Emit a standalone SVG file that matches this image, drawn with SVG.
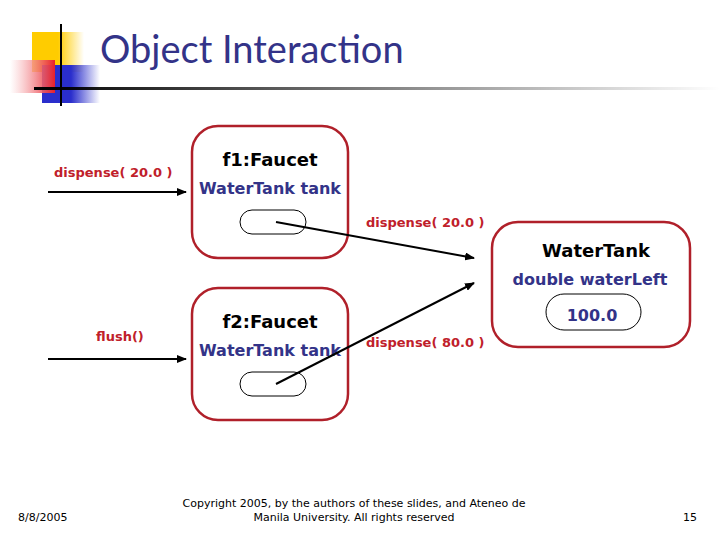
<svg xmlns="http://www.w3.org/2000/svg" width="720" height="540" viewBox="0 0 720 540">
<defs>
<marker id="ah" markerWidth="10" markerHeight="8" refX="9" refY="4" orient="auto" markerUnits="userSpaceOnUse"><path d="M0,0 L10,4 L0,8 z" fill="#000"/></marker>
<linearGradient id="gl" x1="0" x2="1"><stop offset="0" stop-color="#000"/><stop offset="1" stop-color="#000" stop-opacity="0"/></linearGradient>
<linearGradient id="gr" x1="0" x2="1"><stop offset="0" stop-color="#fff" stop-opacity="0.6"/><stop offset="1" stop-color="#e8202a"/></linearGradient>
<linearGradient id="gb" x1="0" x2="1"><stop offset="0.5" stop-color="#2a2ecc"/><stop offset="1" stop-color="#2a2ecc" stop-opacity="0"/></linearGradient>
<linearGradient id="gy" x1="0" x2="1"><stop offset="0.5" stop-color="#ffcc00"/><stop offset="1" stop-color="#ffcc00" stop-opacity="0"/></linearGradient>
</defs>
<style>
.box{fill:#fff;stroke:#b0202a;stroke-width:2.5}
.ov{fill:#fff;stroke:#000;stroke-width:1}
.t{font-family:"Comic Sans MS","DejaVu Sans",sans-serif;font-weight:bold}
.red{fill:#c0202a;font-size:13px}
.blue{fill:#333388;font-size:16px}
.blk{fill:#000;font-size:18px}
.ln{stroke:#000;stroke-width:2;fill:none}
.ft{font-family:"DejaVu Sans",sans-serif;font-size:11px;fill:#000}
</style>
<rect x="32" y="32" width="52" height="40" fill="url(#gy)"/>
<rect x="42" y="65" width="58" height="38" fill="url(#gb)"/>
<rect x="10" y="60" width="45" height="33" fill="url(#gr)"/>
<line x1="61" y1="24" x2="61" y2="106" stroke="#000" stroke-width="2"/>
<rect x="34" y="87" width="686" height="3" fill="url(#gl)"/>
<text x="100" y="63" font-family="Lato,'DejaVu Sans',sans-serif" font-size="38" fill="#333388">Object Interaction</text>
<g id="connectors">
<line class="ln" x1="48" y1="192" x2="186" y2="192" marker-end="url(#ah)"/>
<line class="ln" x1="48" y1="359" x2="186" y2="359" marker-end="url(#ah)"/>
</g>
<g id="f1">
<rect class="box" x="192" y="126" width="156" height="132" rx="26"/>
<text class="t blk" x="270" y="166" text-anchor="middle">f1:Faucet</text>
<text class="t blue" x="270" y="194" text-anchor="middle">WaterTank tank</text>
<rect class="ov" x="240" y="210" width="66" height="24" rx="12"/>
</g>
<g id="f2">
<rect class="box" x="192" y="288" width="156" height="132" rx="26"/>
<text class="t blk" x="270" y="328" text-anchor="middle">f2:Faucet</text>
<text class="t blue" x="270" y="356" text-anchor="middle">WaterTank tank</text>
<rect class="ov" x="240" y="372" width="66" height="24" rx="12"/>
</g>
<g id="watertank">
<rect class="box" x="492" y="222" width="198" height="125" rx="26"/>
<text class="t blk" x="596" y="257" text-anchor="middle">WaterTank</text>
<text class="t blue" x="590" y="285" text-anchor="middle">double waterLeft</text>
<rect class="ov" x="546" y="294" width="95" height="36" rx="18"/>
<text class="t blue" x="592" y="321" text-anchor="middle">100.0</text>
</g>
<g id="labels">
<text class="t red" x="54" y="177">dispense( 20.0 )</text>
<text class="t red" x="96" y="341">flush()</text>
<text class="t red" x="366" y="227">dispense( 20.0 )</text>
<text class="t red" x="366" y="347">dispense( 80.0 )</text>
</g>
<g id="msgs">
<line class="ln" x1="276" y1="222" x2="474" y2="258" marker-end="url(#ah)"/>
<line class="ln" x1="276" y1="384" x2="474" y2="283" marker-end="url(#ah)"/>
</g>
<text class="ft" x="18" y="521" font-size="12">8/8/2005</text>
<text class="ft" x="354" y="507" text-anchor="middle">Copyright 2005, by the authors of these slides, and Ateneo de</text>
<text class="ft" x="354" y="521" text-anchor="middle">Manila University. All rights reserved</text>
<text class="ft" x="683" y="521" font-size="12">15</text>
</svg>
